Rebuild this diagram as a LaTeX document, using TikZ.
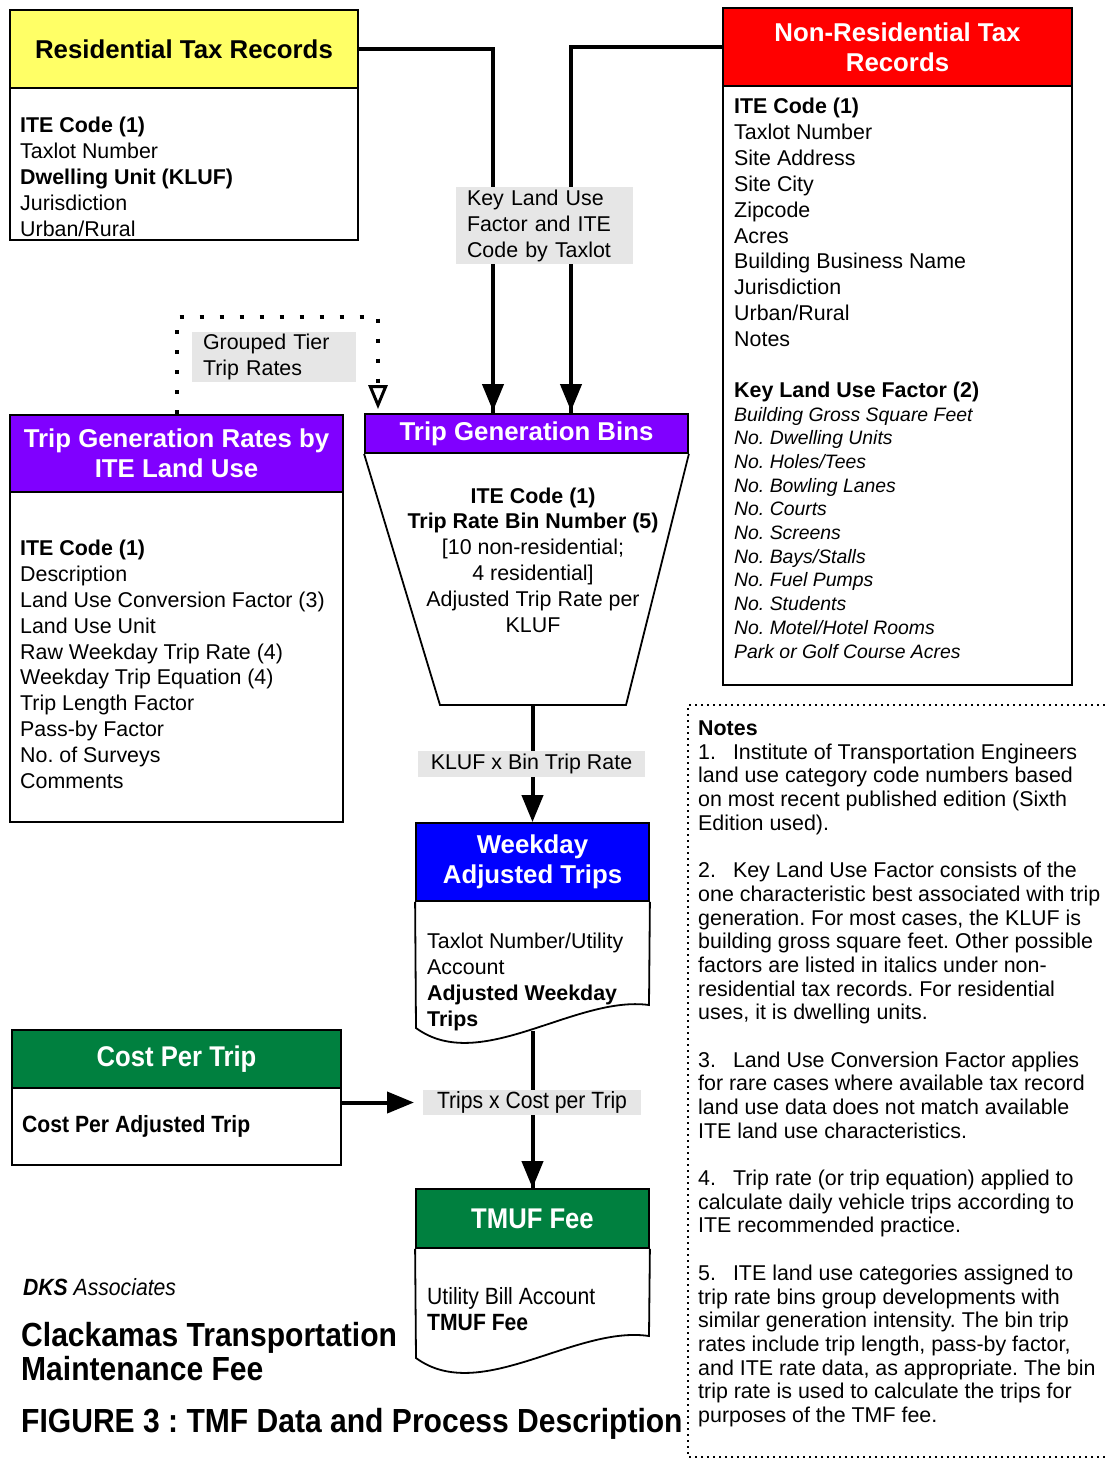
\documentclass[tikz,border=0pt]{standalone}
\usepackage{fontspec}
\setmainfont{Liberation Sans}
\newfontfamily\narrowfont[FakeStretch=0.9]{Liberation Sans}
\usetikzlibrary{arrows.meta}
\definecolor{resyellow}{HTML}{FFFF66}
\definecolor{nonresred}{HTML}{FF0000}
\definecolor{tripviolet}{HTML}{8000FF}
\definecolor{tripblue}{HTML}{0000FF}
\definecolor{feegreen}{HTML}{00803F}
\definecolor{labelgray}{HTML}{E6E6E6}
\frenchspacing

\begin{document}
\begin{tikzpicture}[x=1pt, y=-1pt,
    head/.style={draw, line width=1.8pt, text=white, align=center, inner sep=0pt, font=\fontsize{25.8}{30}\selectfont\bfseries},
    panel/.style={draw, line width=1.8pt, inner sep=0pt},
    item/.style={anchor=base west, align=left, inner sep=0pt, font=\fontsize{21.4}{25.9}\selectfont},
    tag/.style={fill=labelgray, inner xsep=11pt, inner ysep=0pt, align=left, font=\fontsize{21.4}{26}\selectfont},
    flow/.style={line width=4pt, -{Triangle[length=27pt, width=21pt]}}]
            \useasboundingbox (0,0) rectangle (1105,1460);

            \node[panel, minimum width=348pt, minimum height=152pt] (R2) at (184,164) {};
            \node[head, fill=resyellow, text=black, minimum width=348pt, minimum height=78pt] (R1) at (184,49) {Residential Tax Records};
            \node[item] (R3) at (20,236.1) {\textbf{ITE Code (1)}\\Taxlot Number\\\textbf{Dwelling Unit (KLUF)}\\Jurisdiction\\Urban/Rural};

            \node[panel, minimum width=349pt, minimum height=599pt] (N2) at (897.5,385.5) {};
            \node[head, fill=nonresred, minimum width=349pt, minimum height=78pt] (N1) at (897.5,47) {Non-Residential Tax\\Records};
            \node[item] (N3) at (734,397.5) {\textbf{ITE Code (1)}\\Taxlot Number\\Site Address\\Site City\\Zipcode\\Acres\\Building Business Name\\Jurisdiction\\Urban/Rural\\Notes\\[25pt]\textbf{Key Land Use Factor (2)}};
            \node[item, font=\fontsize{19.4}{23.7}\selectfont\itshape] (N4) at (734,658) {Building Gross Square Feet\\No. Dwelling Units\\No. Holes/Tees\\No. Bowling Lanes\\No. Courts\\No. Screens\\No. Bays/Stalls\\No. Fuel Pumps\\No. Students\\No. Motel/Hotel Rooms\\Park or Golf Course Acres};

            \node[panel, minimum width=333pt, minimum height=330pt] (G2) at (176.5,657) {};
            \node[head, fill=tripviolet, minimum width=333pt, minimum height=77pt] (G1) at (176.5,453.5) {Trip Generation Rates by\\ITE Land Use};
            \node[item] (G3) at (20,788.5) {\textbf{ITE Code (1)}\\Description\\Land Use Conversion Factor (3)\\Land Use Unit\\Raw Weekday Trip Rate (4)\\Weekday Trip Equation (4)\\Trip Length Factor\\Pass-by Factor\\No. of Surveys\\Comments};

            \node[head, fill=tripviolet, minimum width=323pt, minimum height=39pt] (B1) at (526.5,433.5) {Trip Generation Bins};
            \coordinate (B2) at (532.5,705);
            \draw[line width=1.8pt] (B1.south west) -- (440,705) -- (626,705) -- (B1.south east);
            \node[item, anchor=base, align=center] (B3) at (533,632.5) {\textbf{ITE Code (1)}\\\textbf{Trip Rate Bin Number (5)}\\{[}10 non-residential;\\4 residential]\\Adjusted Trip Rate per\\KLUF};

            \node[head, fill=tripblue, minimum width=233pt, minimum height=78pt] (W1) at (532.5,862) {Weekday\\Adjusted Trips};
            \coordinate (W2) at (532.5,1031);
            \draw[line width=1.8pt] (W1.south west) -- (416,1028) .. controls (480,1075) and (575,995) .. (649,1005) -- (W1.south east);
            \node[item] (W3) at (427,1026.5) {Taxlot Number/Utility\\Account\\\textbf{Adjusted Weekday}\\\textbf{Trips}};

            \node[panel, minimum width=329pt, minimum height=77pt] (C2) at (176.5,1126.5) {};
            \node[head, fill=feegreen, minimum width=329pt, minimum height=58pt, font=\narrowfont\fontsize{28.5}{30}\selectfont\bfseries] (C1) at (176.5,1059) {Cost Per Trip};
            \node[item, font=\narrowfont\fontsize{23.5}{26}\selectfont\bfseries] (C3) at (22,1132.5) {Cost Per Adjusted Trip};

            \node[head, fill=feegreen, minimum width=233pt, minimum height=59pt, font=\narrowfont\fontsize{28.5}{30}\selectfont\bfseries] (T1) at (532.5,1218.5) {TMUF Fee};
            \draw[line width=1.8pt] (T1.south west) -- (416,1358) .. controls (480,1405) and (575,1325) .. (649,1336) -- (T1.south east);
            \node[item, font=\narrowfont\fontsize{23.5}{26}\selectfont] (T3) at (427,1330.4) {Utility Bill Account\\\textbf{TMUF Fee}};

            \draw[line width=4pt] (R1.east) -| ([xshift=-33.5pt]B1.north);
            \draw[line width=4pt] (N1.west) -| ([xshift=44.5pt]B1.north);
            \draw[flow] ([xshift=-33.5pt]B1.north) ++(0,-150) -- ([xshift=-33.5pt, yshift=2pt]B1.north);
            \draw[flow] ([xshift=44.5pt]B1.north) ++(0,-150) -- ([xshift=44.5pt, yshift=2pt]B1.north);
            \draw[line width=4pt, dash pattern=on 4pt off 16pt, -{Triangle[open, length=24pt, width=19pt, line width=3pt]}] (G1.north) -- ++(0,-97) -| ([xshift=-148.5pt, yshift=4pt]B1.north);
            \draw[flow] (B2) -- (W1.north);
            \draw[line width=4pt] (W2) -- (T1.north);
            \draw[flow] (W2) ++(0,100) -- (T1.north);
            \draw[flow, shorten >=9pt] ([yshift=24pt]C2.east) -- ([yshift=24pt]C2.east -| 423,0);

            \node[tag, text width=155pt, minimum height=77pt] (L1) at (544.5,225.5) {Key Land Use\\Factor and ITE\\Code by Taxlot};
            \node[tag, text width=142pt, minimum height=50pt] (L2) at (274,357) {Grouped Tier\\Trip Rates};
            \node[tag, align=center, minimum width=227pt, minimum height=26pt] (L3) at (531.5,764) {KLUF x Bin Trip Rate};
            \node[tag, align=center, minimum width=218pt, minimum height=25pt, font=\narrowfont\fontsize{23.5}{26}\selectfont] (L4) at (532,1102.5) {Trips x Cost per Trip};

            \node[item, font=\narrowfont\fontsize{23.5}{26}\selectfont\itshape] (F1) at (23,1295) {\textbf{DKS} Associates};
            \node[item, font=\narrowfont\fontsize{33.4}{34}\selectfont\bfseries] (F2) at (21,1380) {Clackamas Transportation\\Maintenance Fee};
            \node[item, font=\narrowfont\fontsize{33.4}{34}\selectfont\bfseries] (F3) at (21,1432) {FIGURE 3 : TMF Data and Process Description};

            \draw[line width=1.6pt, dash pattern=on 1.6pt off 4.4pt] (1105,705) -- (688,705) -- (688,1457) -- (1105,1457);
            \node[item, font=\fontsize{21.4}{23.69}\selectfont] (M1) at (698,1422.5) {\textbf{Notes}\\
1.\hspace{17pt}Institute of Transportation Engineers\\
land use category code numbers based\\
on most recent published edition (Sixth\\
Edition used).\\[23.69pt]
2.\hspace{17pt}Key Land Use Factor consists of the\\
one characteristic best associated with trip\\
generation. For most cases, the KLUF is\\
building gross square feet. Other possible\\
factors are listed in italics under non-\\
residential tax records. For residential\\
uses, it is dwelling units.\\[23.69pt]
3.\hspace{17pt}Land Use Conversion Factor applies\\
for rare cases where available tax record\\
land use data does not match available\\
ITE land use characteristics.\\[23.69pt]
4.\hspace{17pt}Trip rate (or trip equation) applied to\\
calculate daily vehicle trips according to\\
ITE recommended practice.\\[23.69pt]
5.\hspace{17pt}ITE land use categories assigned to\\
trip rate bins group developments with\\
similar generation intensity. The bin trip\\
rates include trip length, pass-by factor,\\
and ITE rate data, as appropriate. The bin\\
trip rate is used to calculate the trips for\\
purposes of the TMF fee.};

        \end{tikzpicture}
\end{document}
